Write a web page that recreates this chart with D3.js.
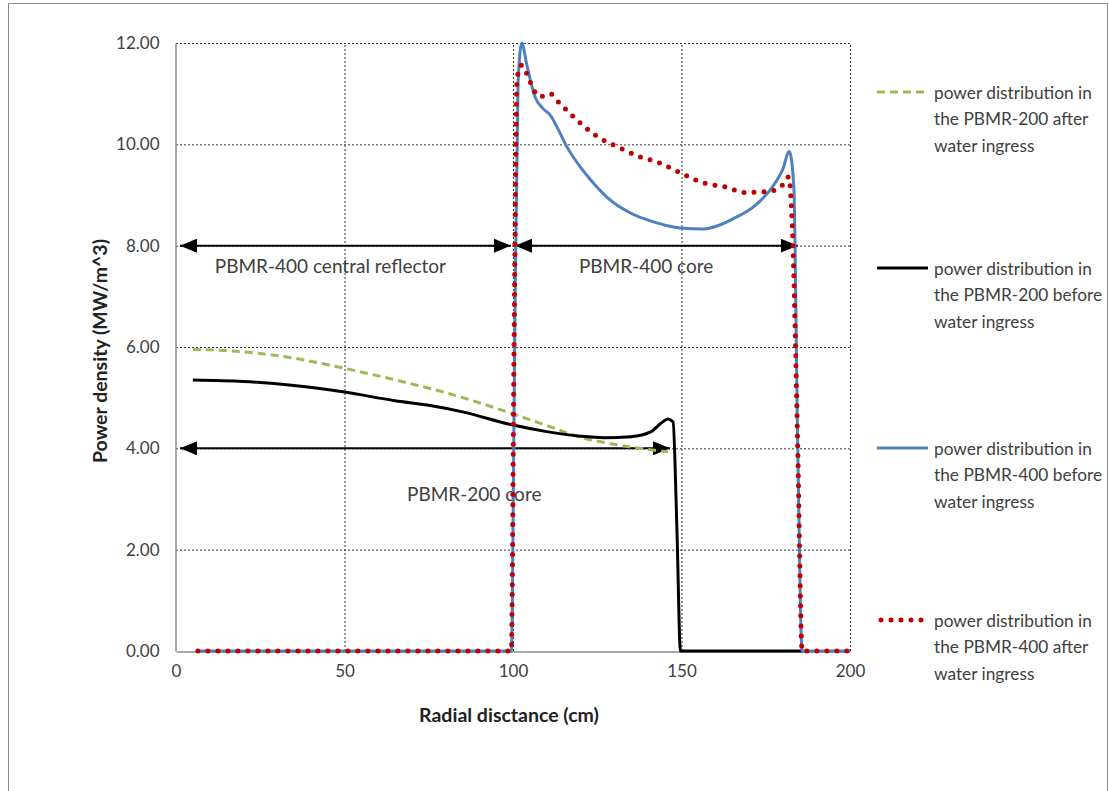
<!DOCTYPE html>
<html>
<head>
<meta charset="utf-8">
<script src="https://cdn.jsdelivr.net/npm/d3@7"></script>
<style>
  body { margin: 0; background: #fff; }
  svg { display: block; font-family: Lato, "Open Sans", sans-serif; }
</style>
</head>
<body>
<svg id="chart" width="1109" height="791"></svg>
<script>
// power distribution in the PBMR-200 after water ingress (green dashed)
const pbmr200AfterX = [5, 15, 25, 35, 45, 50, 60, 70, 80, 90, 100, 110, 120, 130, 140, 146];
const pbmr200AfterY = [5.95, 5.93, 5.87, 5.78, 5.65, 5.58, 5.43, 5.27, 5.1, 4.9, 4.68, 4.45, 4.22, 4.08, 3.98, 3.93];

// power distribution in the PBMR-200 before water ingress (black)
const pbmr200BeforeX = [5, 20, 35, 50, 65, 75, 85, 100, 110, 120, 127, 135, 141, 144, 146, 147.5, 148.6, 149.7, 160, 175, 186];
const pbmr200BeforeY = [5.35, 5.32, 5.24, 5.11, 4.94, 4.85, 4.72, 4.46, 4.33, 4.24, 4.21, 4.23, 4.33, 4.5, 4.58, 4.52, 2.5, 0, 0, 0, 0];

// power distribution in the PBMR-400 before water ingress (blue)
const pbmr400BeforeX = [6.5, 99.5, 100.5, 101.5, 102.6, 104, 106.5, 109, 111, 113, 116, 120, 123, 128, 135, 141.7, 149.6, 156.5, 161, 165, 172, 177, 180, 182, 183.3, 184.5, 185.8, 200];
const pbmr400BeforeY = [0, 0, 6, 11.2, 12.0, 11.6, 10.94, 10.7, 10.58, 10.35, 9.95, 9.55, 9.3, 8.95, 8.64, 8.47, 8.35, 8.33, 8.4, 8.52, 8.8, 9.16, 9.5, 9.86, 9.2, 4, 0, 0];

// power distribution in the PBMR-400 after water ingress (red dotted)
const pbmr400AfterX = [6.5, 99.5, 100.3, 101.2, 102.5, 104.5, 106, 108, 111, 113.7, 119, 124, 131, 137, 143.6, 149.6, 156.5, 163, 169, 176, 180, 181.8, 182.8, 184.5, 185.8, 200];
const pbmr400AfterY = [0, 0, 6, 11.3, 11.56, 11.33, 11.09, 10.94, 11.0, 10.82, 10.48, 10.2, 9.95, 9.77, 9.63, 9.44, 9.24, 9.16, 9.05, 9.07, 9.2, 9.36, 8.5, 4, 0, 0];

const xTicks = [0, 50, 100, 150, 200];
const yTicks = [0, 2, 4, 6, 8, 10, 12];

// region arrows: [from, to, level]
const arrowFrom = [1.2, 100.6, 1.2];
const arrowTo = [99.4, 184.5, 146.6];
const arrowLevel = [8, 8, 4];

const regionLabels = ["PBMR-400 central reflector", "PBMR-400 core", "PBMR-200 core"];
const regionLabelX = [45.8, 139.5, 88.5];
const regionLabelY = [7.47, 7.47, 2.97];

const legendLabels = [
  ["power distribution in", "the PBMR-200 after", "water ingress"],
  ["power distribution in", "the PBMR-200 before", "water ingress"],
  ["power distribution in", "the PBMR-400 before", "water ingress"],
  ["power distribution in", "the PBMR-400 after", "water ingress"]
];

const series = [
  { x: pbmr200AfterX, y: pbmr200AfterY, color: "#9bbb59", width: 3, dash: "8 5", cap: "butt" },
  { x: pbmr200BeforeX, y: pbmr200BeforeY, color: "#000000", width: 3, dash: null, cap: "butt" },
  { x: pbmr400BeforeX, y: pbmr400BeforeY, color: "#4f81bd", width: 3, dash: null, cap: "butt" },
  { x: pbmr400AfterX, y: pbmr400AfterY, color: "#c00000", width: 5, dash: "0 10", cap: "round" }
];

const svg = d3.select("#chart");

// outer frame
svg.append("path")
  .attr("d", "M8.5,800 V3.5 H1107.5 V800")
  .attr("fill", "none")
  .attr("stroke", "#8c8c8c")
  .attr("stroke-width", 1);

const x = d3.scaleLinear().domain([0, 200]).range([176, 850]);
const y = d3.scaleLinear().domain([0, 12]).range([651, 43]);

// gridlines
svg.append("g").selectAll("line")
  .data(yTicks.filter(d => d > 0))
  .enter().append("line")
  .attr("x1", x(0)).attr("x2", x(200))
  .attr("y1", d => y(d) + 0.5).attr("y2", d => y(d) + 0.5)
  .attr("stroke", "#333").attr("stroke-width", 1).attr("stroke-dasharray", "2 2");

svg.append("g").selectAll("line")
  .data(xTicks.filter(d => d > 0))
  .enter().append("line")
  .attr("x1", d => x(d) + 0.5).attr("x2", d => x(d) + 0.5)
  .attr("y1", y(0)).attr("y2", y(12))
  .attr("stroke", "#333").attr("stroke-width", 1).attr("stroke-dasharray", "2 2");

// axes
const xAxis = svg.append("g")
  .attr("transform", `translate(0,${y(0) + 0.5})`)
  .call(d3.axisBottom(x).tickValues(xTicks).tickSize(0).tickPadding(20).tickFormat(d3.format("d")));
const yAxis = svg.append("g")
  .attr("transform", `translate(${x(0) - 0.5},0)`)
  .call(d3.axisLeft(y).tickValues(yTicks).tickSize(0).tickPadding(16).tickFormat(d3.format(".2f")));

[xAxis, yAxis].forEach(a => {
  a.select(".domain").attr("stroke", "#8c8c8c").attr("stroke-width", 1.5);
  a.selectAll("text").attr("font-size", 17).attr("fill", "#404040").attr("font-family", "Lato, sans-serif");
});
xAxis.selectAll("text").attr("dy", "0.35em");

// axis titles
svg.append("text")
  .attr("x", 509).attr("y", 722)
  .attr("text-anchor", "middle")
  .attr("font-size", 19.5).attr("font-weight", "bold").attr("fill", "#222")
  .text("Radial disctance (cm)");

svg.append("text")
  .attr("transform", "translate(107,351) rotate(-90)")
  .attr("text-anchor", "middle")
  .attr("font-size", 19.5).attr("font-weight", "bold").attr("fill", "#222")
  .text("Power density (MW/m^3)");

// arrowheads
const defs = svg.append("defs");
defs.append("marker")
  .attr("id", "head")
  .attr("markerUnits", "userSpaceOnUse")
  .attr("markerWidth", 18).attr("markerHeight", 14)
  .attr("refX", 17).attr("refY", 7)
  .attr("orient", "auto-start-reverse")
  .append("path")
  .attr("d", "M0,0 L17,7 L0,14 Z")
  .attr("fill", "#000");

svg.append("g").selectAll("line")
  .data(arrowFrom.map((d, i) => i))
  .enter().append("line")
  .attr("x1", i => x(arrowFrom[i])).attr("x2", i => x(arrowTo[i]))
  .attr("y1", i => y(arrowLevel[i])).attr("y2", i => y(arrowLevel[i]))
  .attr("stroke", "#000").attr("stroke-width", 2)
  .attr("marker-start", "url(#head)")
  .attr("marker-end", "url(#head)");

// region labels
svg.append("g").selectAll("text")
  .data(regionLabels)
  .enter().append("text")
  .attr("x", (d, i) => x(regionLabelX[i]))
  .attr("y", (d, i) => y(regionLabelY[i]))
  .attr("text-anchor", "middle")
  .attr("font-size", 19).attr("fill", "#404040")
  .text(d => d);

// series lines
const line = d3.line().curve(d3.curveMonotoneX);
const lines = svg.append("g");
series.forEach(s => {
  const pts = s.x.map((v, i) => [x(v), y(s.y[i])]);
  lines.append("path")
    .attr("d", line(pts))
    .attr("fill", "none")
    .attr("stroke", s.color)
    .attr("stroke-width", s.width)
    .attr("stroke-linecap", s.cap)
    .attr("stroke-linejoin", "round")
    .attr("stroke-dasharray", s.dash);
});

// legend
const legendLineY = [92, 268, 448, 620];
const legend = svg.append("g");
series.forEach((s, i) => {
  const g = legend.append("g").attr("transform", `translate(0,${legendLineY[i]})`);
  g.append("line")
    .attr("x1", s.cap === "round" ? 881 : 877).attr("x2", 928)
    .attr("y1", 0).attr("y2", 0)
    .attr("stroke", s.color)
    .attr("stroke-width", s.width)
    .attr("stroke-linecap", s.cap)
    .attr("stroke-dasharray", s.dash);
  g.selectAll("text")
    .data(legendLabels[i])
    .enter().append("text")
    .attr("x", 934)
    .attr("y", (d, j) => j * 26.8 + 6.5)
    .attr("font-size", 17.3).attr("fill", "#404040")
    .text(d => d);
});
</script>
</body>
</html>
